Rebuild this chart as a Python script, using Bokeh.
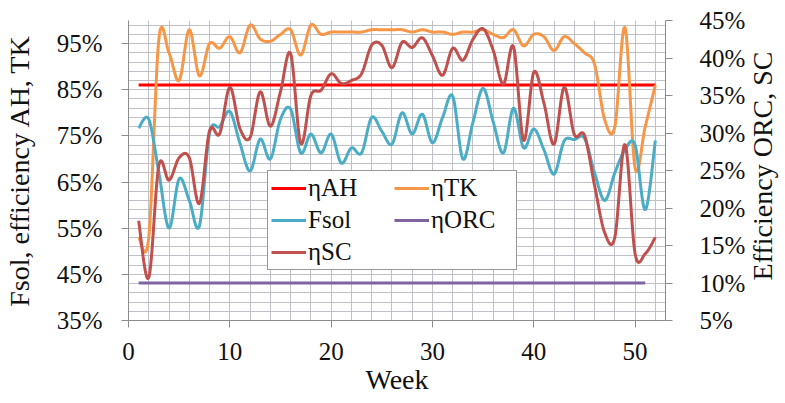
import numpy as np
from bokeh.plotting import figure
from bokeh.layouts import row
from bokeh.models import (Range1d, LinearAxis, FixedTicker, PrintfTickFormatter,
                          Legend, LegendItem, Label)
from bokeh.embed import file_html
from bokeh.resources import INLINE

# ---------------- data ----------------
weeks = list(range(1, 53))

eta_ah = [86, 86, 86, 86, 86, 86, 86, 86, 86, 86, 86, 86, 86,
          86, 86, 86, 86, 86, 86, 86, 86, 86, 86, 86, 86, 86,
          86, 86, 86, 86, 86, 86, 86, 86, 86, 86, 86, 86, 86,
          86, 86, 86, 86, 86, 86, 86, 86, 86, 86, 86, 86, 86]

eta_tk = [53, 53, 96, 93, 87, 98, 88, 95, 94, 96.5, 93, 99, 96,
          95.5, 97, 98, 92.5, 99, 97, 97.5, 97.5, 97.5, 97.5, 98, 98, 98,
          98, 97.5, 98, 97.5, 97.5, 97, 97.5, 97.5, 98, 97, 96.3, 98, 94.5,
          97, 96.5, 93.5, 96.5, 95, 93, 90.5, 78.5, 77, 98.5, 68, 77, 86]

fsol = [76.7, 78.6, 67, 55, 65.7, 61, 55.5, 75.6, 77, 80.3, 73.4, 67.4, 74.3,
        70, 78.6, 80.8, 71.3, 75.4, 71.3, 75.4, 69.1, 72.4, 71.3, 79, 76, 73.2,
        80, 75.4, 79.7, 73.5, 79, 83.6, 70, 78, 85.3, 78, 71.3, 81, 72.4,
        76.5, 72, 66.7, 73.9, 74.2, 74.5, 67, 61, 67, 72, 73, 59, 74]

eta_orc = [10, 10, 10, 10, 10, 10, 10, 10, 10, 10, 10, 10, 10,
           10, 10, 10, 10, 10, 10, 10, 10, 10, 10, 10, 10, 10,
           10, 10, 10, 10, 10, 10, 10, 10, 10, 10, 10, 10, 10,
           10, 10, 10, 10, 10, 10, 10, 10, 10, 10, 10, 10]

eta_sc = [18.3, 10.7, 25.7, 23.7, 26.7, 26.7, 20.6, 30.3, 29.9, 36.1, 30.6, 29.4, 35.5,
          30.9, 35.5, 40.6, 28.6, 35, 35.7, 37.9, 36.6, 37, 37.9, 41.7, 41.7, 38.7,
          42.1, 41.4, 42.7, 40.3, 37.7, 41.3, 39.7, 42.5, 43.9, 41, 36.5, 41.5, 29,
          38.1, 34, 28.5, 36.1, 29.8, 29.7, 23, 16.7, 16.1, 28.5, 13.9, 13.9, 16.1]

left_ticks = [35, 45, 55, 65, 75, 85, 95]
right_ticks = [5, 10, 15, 20, 25, 30, 35, 40, 45]
x_ticks = [0, 10, 20, 30, 40, 50]

FONT = "Liberation Serif"
H = 398


def smooth(xs, ys, n=16):
    """Excel-like smoothed line (Catmull-Rom based cubic Bezier)."""
    x = np.asarray(xs, float)
    y = np.asarray(ys, float)
    m = len(x)
    ox, oy = [], []
    t = np.linspace(0, 1, n, endpoint=False)
    for i in range(m - 1):
        i0 = max(i - 1, 0)
        i3 = min(i + 2, m - 1)
        p1 = np.array([x[i], y[i]])
        p2 = np.array([x[i + 1], y[i + 1]])
        p0 = np.array([x[i0], y[i0]])
        p3 = np.array([x[i3], y[i3]])
        c1 = p1 + (p2 - p0) / 6.0
        c2 = p2 - (p3 - p1) / 6.0
        b = ((1 - t) ** 3)[:, None] * p1 + (3 * (1 - t) ** 2 * t)[:, None] * c1 \
            + (3 * (1 - t) * t ** 2)[:, None] * c2 + (t ** 3)[:, None] * p2
        ox.extend(b[:, 0])
        oy.extend(b[:, 1])
    ox.append(x[-1])
    oy.append(y[-1])
    return ox, oy


p = figure(width=748, height=H, x_range=Range1d(0, 53), y_range=Range1d(35, 100),
           output_backend="svg", toolbar_location=None,
           min_border_left=128, min_border_right=83, min_border_top=20,
           min_border_bottom=78, background_fill_color="white",
           border_fill_color="white")
p.outline_line_color = None
p.extra_y_ranges = {"right": Range1d(5, 45)}

# grid
p.xgrid.ticker = FixedTicker(ticks=list(range(0, 53, 2)))
p.ygrid.ticker = FixedTicker(ticks=list(range(35, 100, 2)))
for g in (p.xgrid, p.ygrid):
    g.grid_line_color = "#C0C0C8"
    g.grid_line_width = 1

AXIS_COLOR = "#8C8C8C"
TEXT_COLOR = "#111111"


def style_axis(ax):
    ax.axis_line_color = AXIS_COLOR
    ax.major_tick_line_color = AXIS_COLOR
    ax.minor_tick_line_color = None
    ax.major_tick_in = 0
    ax.major_tick_out = 7
    ax.major_label_text_font = FONT
    ax.major_label_text_font_size = "25px"
    ax.major_label_text_color = TEXT_COLOR
    ax.axis_label_text_font = FONT
    ax.axis_label_text_font_size = "28px"
    ax.axis_label_text_font_style = "normal"
    ax.axis_label_text_color = TEXT_COLOR


xa = p.xaxis[0]
style_axis(xa)
xa.ticker = FixedTicker(ticks=x_ticks)
xa.axis_label = "Week"
xa.major_label_standoff = 15
xa.axis_label_standoff = 1

ya = p.yaxis[0]
style_axis(ya)
ya.ticker = FixedTicker(ticks=left_ticks)
ya.formatter = PrintfTickFormatter(format="%d%%")
ya.axis_label = "Fsol, efficiency AH, TK"
ya.major_label_standoff = 19
ya.axis_label_standoff = 19

ra = LinearAxis(y_range_name="right")
style_axis(ra)
ra.ticker = FixedTicker(ticks=right_ticks)
ra.formatter = PrintfTickFormatter(format="%d%%")
ra.major_label_standoff = 27
p.add_layout(ra, "right")

# series
x, y = smooth(weeks, eta_ah)
r_ah = p.line(x, y, line_color="#FF0000", line_width=3)
x, y = smooth(weeks, eta_tk)
r_tk = p.line(x, y, line_color="#F79646", line_width=3)
x, y = smooth(weeks, fsol)
r_fs = p.line(x, y, line_color="#4BACC6", line_width=3)
x, y = smooth(weeks[:len(eta_orc)], eta_orc)
r_orc = p.line(x, y, line_color="#8064A2", line_width=3, y_range_name="right")
x, y = smooth(weeks, eta_sc)
r_sc = p.line(x, y, line_color="#C0504D", line_width=3, y_range_name="right")

legend = Legend(items=[
    LegendItem(label="ηAH", renderers=[r_ah]),
    LegendItem(label="Fsol", renderers=[r_fs]),
    LegendItem(label="ηSC", renderers=[r_sc]),
    LegendItem(label="ηTK", renderers=[r_tk]),
    LegendItem(label="ηORC", renderers=[r_orc]),
], location=(139, 50), ncols=2)
legend.label_text_font = FONT
legend.label_text_font_size = "25px"
legend.label_text_color = TEXT_COLOR
legend.glyph_width = 35
legend.glyph_height = 20
legend.label_standoff = 2
legend.label_width = 82
legend.padding = 3
legend.spacing = 4
legend.margin = 0
legend.border_line_color = "#333333"
legend.border_line_width = 1
legend.background_fill_color = "white"
legend.background_fill_alpha = 1
p.add_layout(legend, "center")

# narrow strip holding the right-hand axis title (reads bottom-to-top)
TW = 32
p2 = figure(width=TW, height=H, x_range=Range1d(0, TW), y_range=Range1d(0, H),
            output_backend="svg", toolbar_location=None,
            x_axis_location=None, y_axis_location=None,
            min_border_left=0, min_border_right=0, min_border_top=0,
            min_border_bottom=0, background_fill_color="white",
            border_fill_color="white")
p2.outline_line_color = None
p2.grid.visible = False
p2.add_layout(Label(x=14, y=205, text="Efficiency ORC, SC", angle=90,
                    angle_units="deg", text_align="center",
                    text_baseline="middle", text_font=FONT,
                    text_font_size="28px", text_color=TEXT_COLOR))

layout = row(p, p2, spacing=0)
open("out.html", "w").write(file_html(layout, INLINE))
